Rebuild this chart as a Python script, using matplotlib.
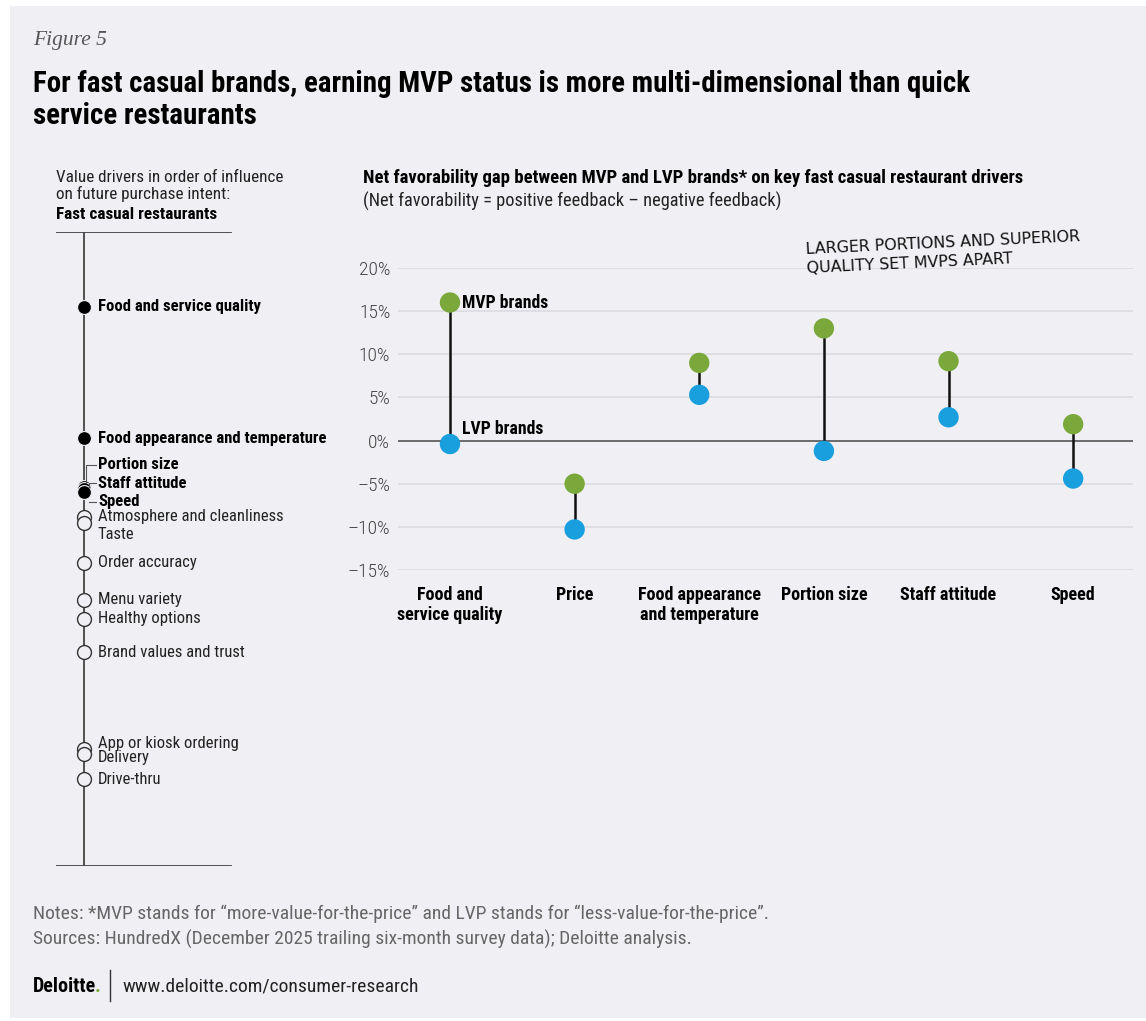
import matplotlib
matplotlib.use("Agg")
import matplotlib.pyplot as plt
from matplotlib import font_manager
from matplotlib.patches import Rectangle

# data
categories = ["Food and\nservice quality", "Price", "Food appearance\nand temperature",
              "Portion size", "Staff attitude", "Speed"]
mvp = [16.0, -5.0, 9.0, 13.0, 9.2, 1.9]
lvp = [-0.4, -10.3, 5.3, -1.2, 2.7, -4.4]
yticks = [20, 15, 10, 5, 0, -5, -10, -15]

drivers = ["Food and service quality", "Food appearance and temperature", "Portion size",
           "Staff attitude", "Speed", "Atmosphere and cleanliness", "Taste", "Order accuracy",
           "Menu variety", "Healthy options", "Brand values and trust", "App or kiosk ordering",
           "Delivery", "Drive-thru"]
influence = [88.2, 67.5, 59.8, 59.5, 59.0, 55.1, 54.1, 47.8, 42.0, 39.0, 33.7, 18.5, 17.6, 13.7]
key_driver = [True, True, True, True, True, False, False, False, False, False, False, False, False, False]
# label nudges (points) for crowded labels
label_nudge = [0, 0, 16, 4, -7, 0, -8, 0, 0, 0, 0, 4, -2, 0]

W, H = 1146, 1021
BG = "#f0f0f4"
GREEN = "#7aa83a"
BLUE = "#1a9fde"

names = {f.name for f in font_manager.fontManager.ttflist}
cands = ["Roboto Condensed", "Liberation Sans Narrow", "DejaVu Sans Condensed", "Roboto", "Liberation Sans"]
base = next((c for c in cands if c in names), "DejaVu Sans")
FONT = [base, "DejaVu Sans"]
plt.rcParams["font.family"] = FONT

fig = plt.figure(figsize=(W / 100, H / 100), dpi=100, facecolor="white")
fig.patches.append(Rectangle((10 / W, 3 / H), 1 - 10 / W, 1 - 9 / H, transform=fig.transFigure,
                             facecolor=BG, edgecolor="none", zorder=-10))


def ftext(x, y, s, **kw):
    return fig.text(x / W, 1 - y / H, s, **kw)


# headers
ftext(33, 40, "Figure 5", family=["Liberation Serif"], style="italic", fontsize=15.5,
      color="#555555", va="center")
ftext(33, 100, "For fast casual brands, earning MVP status is more multi-dimensional than quick\nservice restaurants",
      fontsize=20.8, weight=900, color="black", va="center", linespacing=1.22)

ftext(56, 186, "Value drivers in order of influence\non future purchase intent:", fontsize=12.3,
      color="#222222", va="center", linespacing=1.02)
ftext(56, 214, "Fast casual restaurants", fontsize=12.3, weight="bold", color="black", va="center")

ftext(363, 178, "Net favorability gap between MVP and LVP brands* on key fast casual restaurant drivers",
      fontsize=13.4, weight="bold", color="black", va="center")
ftext(363, 201, "(Net favorability = positive feedback \u2013 negative feedback)",
      fontsize=13.2, color="#222222", va="center")

# footer
ftext(33, 914, "Notes: *MVP stands for \u201cmore-value-for-the-price\u201d and LVP stands for \u201cless-value-for-the-price\u201d.",
      fontsize=14, color="#666666", va="center")
ftext(33, 939, "Sources: HundredX (December 2025 trailing six-month survey data); Deloitte analysis.",
      fontsize=14, color="#666666", va="center")
logo = ftext(33, 986, "Deloitte", fontsize=14.5, weight=900, color="black", va="center")
fig.canvas.draw()
bb = logo.get_window_extent()
fig.text((bb.x1 - 2) / W, 1 - 986 / H, ".", fontsize=14.5, weight=900, color=GREEN, va="center")
fig.add_artist(plt.Line2D([110 / W, 110 / W], [1 - 970 / H, 1 - 1001 / H], color="#333333", lw=1))
ftext(122, 986, "www.deloitte.com/consumer-research", fontsize=14, color="#222222", va="center")

# left panel: driver ranking
axl = fig.add_axes([56 / W, 1 - 866 / H, (360 - 56) / W, (866 - 232) / H])
axl.set_xlim(56, 360)
axl.set_ylim(0, 100)
axl.axis("off")
xl = 84
axl.plot([xl, xl], [0, 100], color="#444444", lw=1.3, zorder=1)
axl.plot([56, 231], [100, 100], color="#444444", lw=1.3)
axl.plot([56, 231], [0, 0], color="#444444", lw=1.3)

px = 100 / (866 - 232)  # data units per pixel
for name, val, key, nudge in zip(drivers, influence, key_driver, label_nudge):
    if key:
        axl.plot(xl, val, "o", ms=10, mfc="black", mec=BG, mew=0.8, zorder=3)
    else:
        axl.plot(xl, val, "o", ms=10, mfc=BG, mec="#333333", mew=1.0, zorder=2)
    axl.annotate(name, (xl, val), xytext=(10, nudge), textcoords="offset points",
                 fontsize=12, weight="bold" if key else "normal", color="black" if key else "#222222",
                 va="center", ha="left")

# leader lines for the crowded key drivers
i_ps, i_sa, i_sp = drivers.index("Portion size"), drivers.index("Staff attitude"), drivers.index("Speed")
y_ps = influence[i_ps] + label_nudge[i_ps] * 1.389 * px
axl.plot([86, 86, 96], [influence[i_ps] + 4 * px, y_ps, y_ps], color="#555555", lw=0.8, zorder=4)
y_sa = influence[i_sa] + label_nudge[i_sa] * 1.389 * px
axl.plot([89, 89, 96], [influence[i_sa] + 2 * px, y_sa, y_sa], color="#555555", lw=0.8, zorder=4)
y_sp = influence[i_sp] + label_nudge[i_sp] * 1.389 * px
axl.plot([89, 96], [y_sp, y_sp], color="#555555", lw=0.8, zorder=4)

# right panel: dumbbell chart
ax = fig.add_axes([398 / W, 1 - 570 / H, (1133 - 398) / W, (570 - 268) / H])
ax.set_facecolor("none")
x = list(range(len(categories)))
ax.set_xlim(-0.417, 5.48)
ax.set_ylim(-15, 20)
for t in yticks:
    if t == 0:
        ax.axhline(t, color="#555555", lw=1.2, zorder=1)
    else:
        ax.axhline(t, color="#d9d9de", lw=1.1, zorder=0)
ax.vlines(x, lvp, mvp, color="#111111", lw=1.8, zorder=2)
ax.scatter(x, mvp, s=215, color=GREEN, zorder=3, clip_on=False, edgecolors="none")
ax.scatter(x, lvp, s=215, color=BLUE, zorder=3, clip_on=False, edgecolors="none")
for s in ax.spines.values():
    s.set_visible(False)
ax.set_yticks(yticks)
ax.set_yticklabels([(f"{t}%" if t >= 0 else f"\u2013{-t}%") for t in yticks], fontsize=14,
                   color="#444444", weight="light")
ax.tick_params(axis="y", length=0, pad=5.5)
ax.set_xticks(x)
ax.set_xticklabels(categories, fontsize=13, weight="bold", color="black", linespacing=1.12, va="top")
ax.tick_params(axis="x", length=0, pad=11.5)

ax.annotate("MVP brands", (x[0], mvp[0]), xytext=(9, 0), textcoords="offset points",
            fontsize=12.7, weight="bold", va="center")
ax.annotate("LVP brands", (x[0], lvp[0]), xytext=(9, 10.5), textcoords="offset points",
            fontsize=12.7, weight="bold", va="center")

ftext(806, 259, "LARGER PORTIONS AND SUPERIOR\nQUALITY SET MVPS APART", family=["DejaVu Sans"],
      fontsize=11.4, color="#111111", ha="left", va="center", rotation=2.7, rotation_mode="anchor",
      linespacing=1.3)

fig.savefig("out.png", dpi=100, facecolor="white")
